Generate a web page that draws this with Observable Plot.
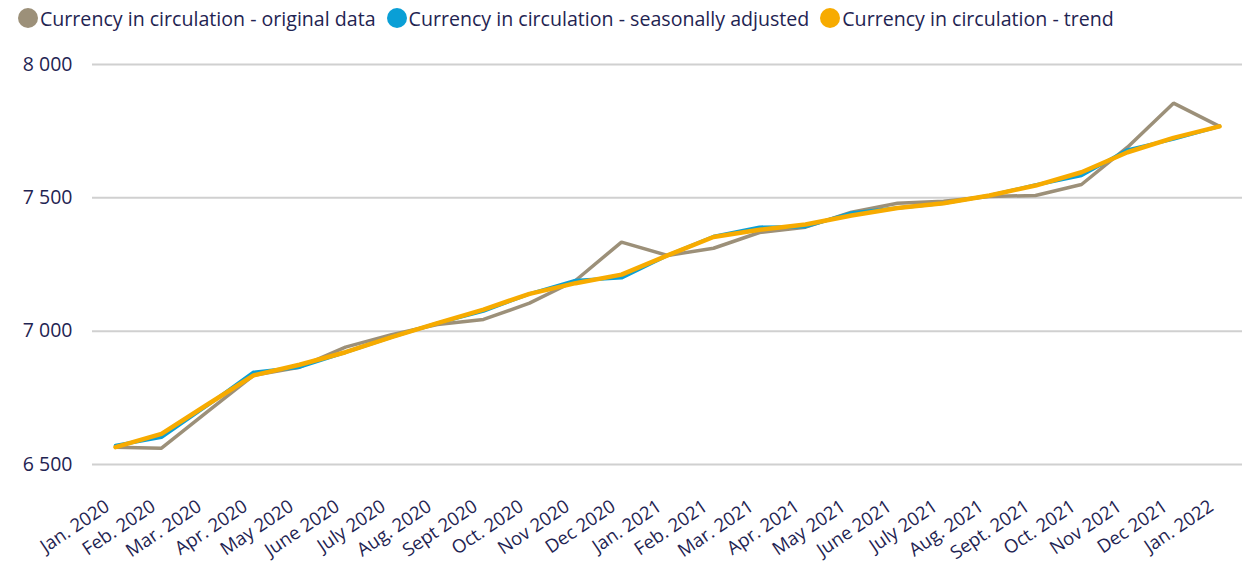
<!DOCTYPE html>
<html>
<head>
<meta charset="utf-8">
<script src="https://cdn.jsdelivr.net/npm/d3@7"></script>
<script src="https://cdn.jsdelivr.net/npm/@observablehq/plot@0.6"></script>
<style>
  html, body { margin: 0; padding: 0; background: #fff; }
  body { width: 1247px; height: 564px; overflow: hidden; font-family: "Open Sans", sans-serif; }
  #legend { height: 36px; display: flex; align-items: center; padding-left: 18px; font-size: 19.6px; color: #1f2452; white-space: nowrap; }
  .item { display: flex; align-items: center; margin-right: 11px; }
  .dot { width: 20px; height: 20px; border-radius: 50%; margin-right: 2px; }
</style>
</head>
<body>
<div id="legend"></div>
<div id="chart"></div>
<script>
const months = ["Jan. 2020","Feb. 2020","Mar. 2020","Apr. 2020","May 2020","June 2020","July 2020","Aug. 2020","Sept 2020","Oct. 2020","Nov 2020","Dec 2020","Jan. 2021","Feb. 2021","Mar. 2021","Apr. 2021","May 2021","June 2021","July 2021","Aug. 2021","Sept. 2021","Oct. 2021","Nov 2021","Dec 2021","Jan. 2022"];
const original = [6565,6561,6698,6834,6865,6940,6987,7025,7044,7105,7190,7334,7284,7311,7370,7390,7446,7480,7487,7505,7509,7550,7690,7855,7768];
const seasonal = [6571,6602,6722,6846,6865,6921,6978,7030,7075,7140,7190,7200,7284,7355,7390,7392,7443,7462,7480,7509,7548,7584,7680,7720,7768];
const trend    = [6565,6615,6725,6834,6874,6921,6978,7030,7081,7140,7180,7212,7284,7353,7380,7400,7434,7462,7480,7509,7546,7596,7671,7725,7768];
const seriesNames = ["Currency in circulation - original data","Currency in circulation - seasonally adjusted","Currency in circulation - trend"];
const colors = ["#9c9079","#0a9fd6","#f7ab00"];
const yTicks = [6500,7000,7500,8000];

const seriesValues = [original, seasonal, trend];
const data = seriesValues.flatMap((vals, s) => vals.map((v, i) => ({month: months[i], value: v, series: seriesNames[s]})));

const legend = document.getElementById("legend");
seriesNames.forEach((n, i) => {
  const it = document.createElement("div"); it.className = "item";
  const d = document.createElement("div"); d.className = "dot"; d.style.background = colors[i];
  const t = document.createElement("span"); t.textContent = n;
  it.appendChild(d); it.appendChild(t); legend.appendChild(it);
});

const fmt = d => d3.format(",")(d).replace(/,/g, " ");
const widths = [3.5, 3.5, 4.5];

const chart = Plot.plot({
  width: 1247,
  height: 528,
  marginTop: 28,
  marginBottom: 100,
  marginLeft: 92,
  marginRight: 5,
  style: {fontFamily: "Open Sans, sans-serif", color: "#1f2452", background: "#fff", overflow: "visible"},
  x: {type: "point", domain: months, padding: 0.43, label: null},
  y: {domain: [6500, 8000], label: null},
  marks: [
    Plot.ruleY(yTicks, {stroke: "#d0d0d0", strokeWidth: 2}),
    Plot.axisY({ticks: yTicks, tickFormat: fmt, tickSize: 0, tickPadding: 20, fontSize: 19.5, fill: "#1f2452", label: null}),
    Plot.axisX({tickSize: 0, tickRotate: -34, tickPadding: 40, fontSize: 18.5, fill: "#1f2452", label: null, dx: -8}),
    ...seriesNames.map((n, i) => Plot.line(data.filter(d => d.series === n), {x: "month", y: "value", stroke: colors[i], strokeWidth: widths[i], strokeLinejoin: "miter"}))
  ]
});
document.getElementById("chart").appendChild(chart);
</script>
</body>
</html>
